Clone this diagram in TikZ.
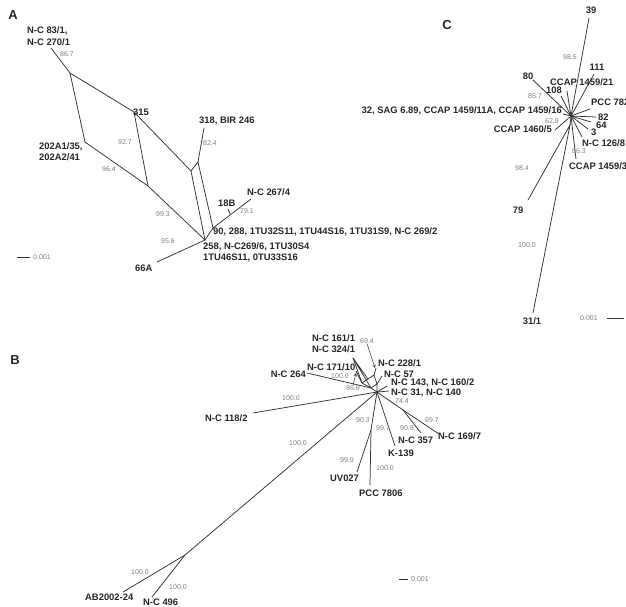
\documentclass[tikz,border=0pt]{standalone}
\usepackage{fontspec}
\setmainfont{Liberation Sans}
\usepackage{tikz}
\usetikzlibrary{arrows.meta}

\begin{document}
\begin{tikzpicture}[x=1pt,y=-1pt,>=stealth,
  br/.style={black!80,line width=0.75pt},
  tip/.style={->,black!80,line width=0.5pt},
  lab/.style={font=\fontsize{9.4}{11}\selectfont\bfseries,text=black!85,inner sep=0pt},
  boot/.style={font=\fontsize{7}{8}\selectfont,text=black!50,inner sep=0pt},
  pnl/.style={font=\fontsize{13}{14}\selectfont\bfseries,text=black!85,inner sep=0pt}]
\useasboundingbox[fill=white](0,0)rectangle(626,606);
% panel A
\node[pnl](pA) at (13,15){A};
\coordinate(a) at (70,73);
\coordinate(b) at (134,112);
\coordinate(c) at (191,171);
\coordinate(d) at (85,142);
\coordinate(e) at (148,186);
\coordinate(f) at (205,240);
\coordinate(g) at (198,162);
\coordinate(h) at (213,228);
\coordinate(l83) at (51,48);
\coordinate(l318) at (204,128);
\coordinate(l267) at (251,199);
\coordinate(t18) at (228,209);
\coordinate(s18) at (230,214);
\coordinate(l66) at (157,262);
\draw[br](l83)--(a)--(b)--(c)--(f)--(l66);
\draw[br](a)--(d)--(e)--(f)--(h)--(l267);
\draw[br](b)--(e);
\draw[br](c)--(g)--(h);
\draw[br](g)--(l318);
\draw[br](t18)--(s18);
\node[lab,anchor=base west](nA1) at (27,33.4){N-C 83/1,};
\node[lab,anchor=base west](nA2) at (27,45.4){N-C 270/1};
\node[lab,anchor=base west](nA3) at (133,115.4){315};
\node[lab,anchor=base west](nA4) at (199,123.4){318, BIR 246};
\node[lab,anchor=base west](nA5) at (39,149.4){202A1/35,};
\node[lab,anchor=base west](nA6) at (39,160.4){202A2/41};
\node[lab,anchor=base west](nA7) at (247,195.4){N-C 267/4};
\node[lab,anchor=base west](nA8) at (218,206.4){18B};
\node[lab,anchor=base west](nA9) at (213,234.4){90, 288, 1TU32S11, 1TU44S16, 1TU31S9, N-C 269/2};
\node[lab,anchor=base west](nA10) at (203,249.4){258, N-C269/6, 1TU30S4};
\node[lab,anchor=base west](nA11) at (203,260.4){1TU46S11, 0TU33S16};
\node[lab,anchor=base west](nA12) at (135,271.4){66A};
\node[boot](bA1) at (67,54){86.7};
\node[boot](bA2) at (125,142){92.7};
\node[boot](bA3) at (210,143){82.4};
\node[boot](bA4) at (109,169){96.4};
\node[boot](bA5) at (163,214){99.3};
\node[boot](bA6) at (247,211){79.1};
\node[boot](bA7) at (168,241){95.6};
\coordinate(sA1) at (17,257);
\coordinate(sA2) at (30,257);
\draw[br](sA1)--(sA2);
\node[boot](kA) at (42,257){0.001};
% panel C
\node[pnl](pC) at (447,25){C};
\coordinate(c0) at (571,116);
\coordinate(c1) at (570,125);
\coordinate(l39) at (589,18);
\coordinate(l111) at (594,74);
\coordinate(l2121) at (567,91);
\coordinate(l108) at (561,96);
\coordinate(l80) at (533,80);
\coordinate(l32) at (563,114);
\coordinate(lP782) at (590,109);
\coordinate(l82) at (596,117);
\coordinate(l64) at (591,122);
\coordinate(l3) at (588,129);
\coordinate(l126) at (582,137);
\coordinate(l14593) at (576,159);
\coordinate(l1460) at (555,130);
\coordinate(l79) at (528,200);
\coordinate(l31) at (533,313);
\foreach \t in {l39,l111,l2121,l108,l80,l32,lP782,l82,l64,l3,l126,l14593,l1460,c1}
  \draw[br](c0)--(\t);
\draw[br](l79)--(c1)--(l31);
\node[lab,anchor=base](nC1) at (591,13.4){39};
\node[lab,anchor=base](nC2) at (597,70.4){111};
\node[lab,anchor=base](nC3) at (528,79.4){80};
\node[lab,anchor=base west](nC4) at (550,85.4){CCAP 1459/21};
\node[lab,anchor=base](nC5) at (554,93.4){108};
\node[lab,anchor=base west](nC6) at (591,105.4){PCC 782};
\node[lab,anchor=base east](nC7) at (562,113.4){32, SAG 6.89, CCAP 1459/11A, CCAP 1459/16};
\node[lab,anchor=base west](nC8) at (598,120.4){82};
\node[lab,anchor=base west](nC9) at (596,128.4){64};
\node[lab,anchor=base east](nC10) at (552,132.4){CCAP 1460/5};
\node[lab,anchor=base west](nC11) at (591,135.4){3};
\node[lab,anchor=base west](nC12) at (582,146.4){N-C 126/8};
\node[lab,anchor=base west](nC13) at (569,169.4){CCAP 1459/3};
\node[lab,anchor=base](nC14) at (518,213.4){79};
\node[lab,anchor=base](nC15) at (532,324.4){31/1};
\node[boot](bC1) at (570,57){98.5};
\node[boot](bC2) at (535,96){85.7};
\node[boot](bC3) at (552,121){62.9};
\node[boot](bC4) at (579,151){86.3};
\node[boot](bC5) at (522,168){98.4};
\node[boot](bC6) at (527,245){100.0};
\coordinate(sC1) at (607,318);
\coordinate(sC2) at (624,318);
\draw[br](sC1)--(sC2);
\node[boot](kC) at (589,318){0.001};
% panel B
\node[pnl](pB) at (15,360){B};
\coordinate(h0) at (377,392);
\coordinate(q1) at (368,379);
\coordinate(q2) at (374,375);
\coordinate(q3) at (377,384);
\coordinate(q4) at (371,388);
\coordinate(q5) at (362,383);
\coordinate(l161) at (353,358);
\coordinate(l228) at (376,368);
\coordinate(l57) at (382,376);
\coordinate(l143) at (387,386);
\coordinate(l31b) at (389,391);
\coordinate(l171) at (356,371);
\coordinate(l264) at (307,373);
\coordinate(l118) at (253,413);
\coordinate(n0) at (185,555);
\coordinate(lAB) at (123,592);
\coordinate(l496) at (152,597);
\coordinate(n357) at (403,410);
\coordinate(l169) at (439,434);
\coordinate(l357) at (421,433);
\coordinate(lK) at (395,446);
\coordinate(u) at (371,430);
\coordinate(lPCC) at (370,485);
\coordinate(lUV) at (357,472);
\draw[br](l161)--(q1)--(q2)--(q3)--(q4)--cycle;
\draw[br](l161)--(q5)--(q4)--(h0)--(q3);
\draw[br](q1)--(q5);
\draw[br](q2)--(l228);
\draw[br](q3)--(l57);
\draw[br](q5)--(l171);
\draw[br](q4)--(l264);
\draw[br](h0)--(l143);
\draw[br](h0)--(l31b);
\draw[br](h0)--(l118);
\draw[br](h0)--(n0)--(lAB);
\draw[br](n0)--(l496);
\draw[br](h0)--(n357)--(l169);
\draw[br](n357)--(l357);
\draw[br](h0)--(lK);
\draw[br](h0)--(u)--(lPCC);
\draw[br](u)--(lUV);
\node[lab,anchor=base west](nB1) at (312,341.4){N-C 161/1};
\node[lab,anchor=base west](nB2) at (312,352.4){N-C 324/1};
\node[lab,anchor=base west](nB3) at (378,366.4){N-C 228/1};
\node[lab,anchor=base west](nB4) at (384,377.4){N-C 57};
\node[lab,anchor=base west](nB5) at (391,385.4){N-C 143, N-C 160/2};
\node[lab,anchor=base west](nB6) at (391,395.4){N-C 31, N-C 140};
\node[lab,anchor=base west](nB7) at (307,370.4){N-C 171/10};
\node[lab,anchor=base east](nB8) at (306,377.4){N-C 264};
\node[lab,anchor=base west](nB9) at (205,421.4){N-C 118/2};
\node[lab,anchor=base west](nB10) at (438,439.4){N-C 169/7};
\node[lab,anchor=base west](nB11) at (398,443.4){N-C 357};
\node[lab,anchor=base west](nB12) at (388,456.4){K-139};
\node[lab,anchor=base west](nB13) at (330,481.4){UV027};
\node[lab,anchor=base west](nB14) at (359,496.4){PCC 7806};
\node[lab,anchor=base west](nB15) at (85,600.4){AB2002-24};
\node[lab,anchor=base west](nB16) at (143,605.4){N-C 496};
\node[boot](bB1) at (367,341){69.4};
\node[boot](bB2) at (340,376){100.0};
\node[boot](bB3) at (353,388){86.9};
\node[boot](bB4) at (291,398){100.0};
\node[boot](bB5) at (298,443){100.0};
\node[boot](bB6) at (402,401){74.4};
\node[boot](bB7) at (432,420){99.7};
\node[boot](bB8) at (407,428){90.8};
\node[boot](bB9) at (383,428){99.7};
\node[boot](bB10) at (363,420){90.3};
\node[boot](bB11) at (347,460){99.9};
\node[boot](bB12) at (385,468){100.0};
\node[boot](bB13) at (140,572){100.0};
\node[boot](bB14) at (178,587){100.0};
\coordinate(r69) at (375,368);
\coordinate(r86) at (356,373);
\draw[tip](bB1.south)--(r69);
\draw[tip](bB3.north)--(r86);
\coordinate(sB1) at (399,579);
\coordinate(sB2) at (408,579);
\draw[br](sB1)--(sB2);
\node[boot](kB) at (420,579){0.001};
\end{tikzpicture}
\end{document}
